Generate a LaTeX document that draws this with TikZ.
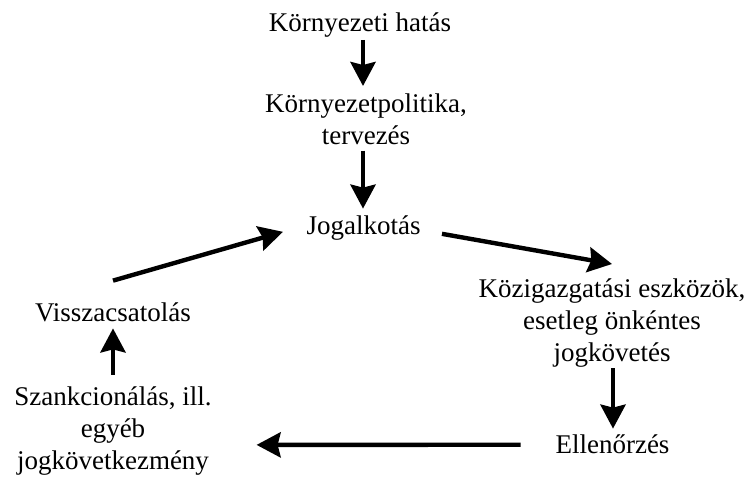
\documentclass[tikz,border=0pt]{standalone}
\usepackage{fontspec}
\setmainfont{Liberation Serif}
\usetikzlibrary{arrows.meta}
\begin{document}
\begin{tikzpicture}[x=1pt,y=-1pt,
  label/.style={inner sep=0pt, outer sep=0pt, align=center,
    font=\fontsize{27}{32}\selectfont},
  arr/.style={line width=4.4pt, -{Stealth[length=24pt,width=25pt,inset=3pt]}}]
  \useasboundingbox (0,0) rectangle (750,478);

  % stages of the cycle
  \node[label, anchor=base]  (hatas) at (360,32)    {Környezeti hatás};
  \node[label, anchor=north] (pol)   at (366,93.6)  {Környezetpolitika,\\ tervezés};
  \node[label, anchor=base]  (jog)   at (363.5,235) {Jogalkotás};
  \node[label, anchor=north] (koz)   at (612,278.6) {Közigazgatási eszközök,\\ esetleg önkéntes\\ jogkövetés};
  \node[label, anchor=base]  (ell)   at (612.5,453) {Ellenőrzés};
  \node[label, anchor=north] (szank) at (113,386.6) {Szankcionálás, ill.\\ egyéb\\ jogkövetkezmény};
  \node[label, anchor=base]  (visz)  at (113,322)   {Visszacsatolás};

  % connectors
  \draw[arr] ([shift={(3,2)}]hatas.south) -- ([shift={(-3,-7.6)}]pol.north);
  \draw[arr] ([shift={(-3,6)}]pol.south) -- ([shift={(-0.5,-7.6)}]jog.north);
  \draw[arr] ([shift={(21.5,5.3)}]jog.east) -- ([shift={(0,-14.6)}]koz.north);
  \draw[arr] ([shift={(1,1)}]koz.south) -- ([shift={(0.5,-5.6)}]ell.north);
  \draw[arr] ([shift={(-35,1)}]ell.west) -- ([shift={(45,14)}]szank.east);
  \draw[arr] ([shift={(0,-11.6)}]szank.north) -- ([shift={(0,6)}]visz.south);
  \draw[arr] ([shift={(0,-22.6)}]visz.north) -- ([shift={(-23.5,3.3)}]jog.west);
\end{tikzpicture}
\end{document}
